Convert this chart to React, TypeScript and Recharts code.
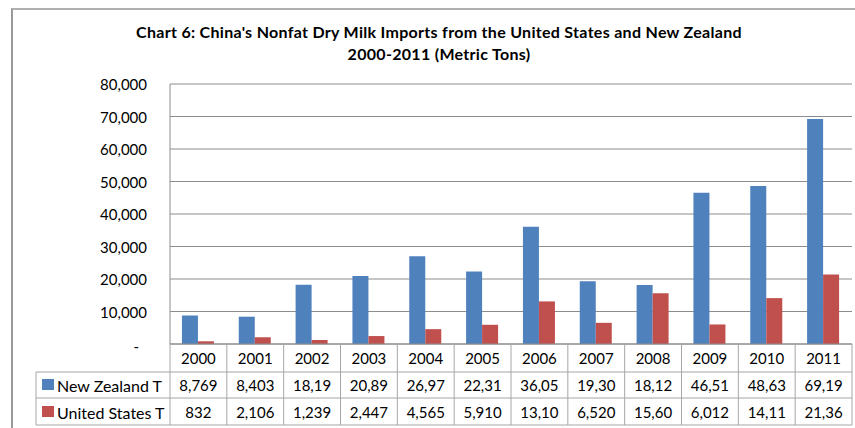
import React from 'react';
import { BarChart, Bar, XAxis, YAxis, CartesianGrid } from 'recharts';

const years = ['2000', '2001', '2002', '2003', '2004', '2005', '2006', '2007', '2008', '2009', '2010', '2011'];
const newZealand = [8769, 8403, 18195, 20895, 26975, 22315, 36055, 19305, 18125, 46515, 48635, 69195];
const unitedStates = [832, 2106, 1239, 2447, 4565, 5910, 13105, 6520, 15605, 6012, 14115, 21365];
const yTicks = [0, 10000, 20000, 30000, 40000, 50000, 60000, 70000, 80000];
const seriesNames = ['New Zealand T', 'United States T'];
const seriesKeys = ['nz', 'us'];
const seriesColors = ['#4F81BD', '#C0504D'];
const titleLines = ["Chart 6: China's Nonfat Dry Milk Imports from the United States and New Zealand", '2000-2011 (Metric Tons)'];

const data = years.map((y, i) => ({ year: y, nz: newZealand[i], us: unitedStates[i] }));

const W = 855;
const H = 428;
const PLOT_LEFT = 170;
const PLOT_RIGHT = 852;
const COL_W = (PLOT_RIGHT - PLOT_LEFT) / years.length;
const GRID = '#8c8c8c';
const BORDER = '#a6a6a6';
const FONT = 'Lato, sans-serif';

const cellText = (v: number) => v.toLocaleString('en-US').slice(0, 5);

const YTick = (props: any) => {
  const { x, y, payload } = props;
  const v = payload.value;
  if (v === 0) {
    return (
      <text x={x - 8} y={y + 2} textAnchor="end" dominantBaseline="central" fontSize={15} fontFamily={FONT} fill="#000">-</text>
    );
  }
  return (
    <text x={x} y={y} textAnchor="end" dominantBaseline="central" fontSize={15} fontFamily={FONT} fill="#000">
      {v.toLocaleString('en-US')}
    </text>
  );
};

const XTableTick = (props: any) => {
  const { x, y, payload } = props;
  const i = payload.index;
  const left = x - COL_W / 2;
  const right = x + COL_W / 2;
  const r1 = y + 28;
  const r2 = y + 54;
  const r3 = y + 81;
  const rowVals = [newZealand[i], unitedStates[i]];
  return (
    <g>
      <line x1={left} y1={y} x2={left} y2={r3} stroke={BORDER} />
      {i === years.length - 1 && <line x1={right} y1={y} x2={right} y2={r3} stroke={BORDER} />}
      <line x1={left} y1={r1} x2={right} y2={r1} stroke={BORDER} />
      <line x1={left} y1={r2} x2={right} y2={r2} stroke={BORDER} />
      <line x1={left} y1={r3} x2={right} y2={r3} stroke={BORDER} />
      <text x={x} y={y + 14} textAnchor="middle" dominantBaseline="central" fontSize={15} fontFamily={FONT} fill="#000">{payload.value}</text>
      {rowVals.map((v, k) => (
        <text key={k} x={x} y={y + 41 + k * 27} textAnchor="middle" dominantBaseline="central" fontSize={15} fontFamily={FONT} fill="#000">{cellText(v)}</text>
      ))}
      {i === 0 && (
        <g>
          <line x1={36} y1={r1} x2={left} y2={r1} stroke={BORDER} />
          <line x1={36} y1={r2} x2={left} y2={r2} stroke={BORDER} />
          <line x1={36} y1={r3} x2={left} y2={r3} stroke={BORDER} />
          <line x1={36} y1={r1} x2={36} y2={r3} stroke={BORDER} />
          {seriesNames.map((n, k) => (
            <g key={n}>
              <rect x={42} y={r1 + 7 + k * 27} width={12} height={11} fill={seriesColors[k]} />
              <text x={57} y={y + 41 + k * 27} dominantBaseline="central" fontSize={16} fontFamily={FONT} fill="#000">{n}</text>
            </g>
          ))}
        </g>
      )}
    </g>
  );
};

export default function App() {
  return (
    <div style={{ position: 'absolute', left: 0, top: 0, width: W, height: H, background: '#fff', overflow: 'hidden', fontFamily: FONT }}>
      <div style={{ position: 'absolute', left: 11, top: 8, width: W, height: H, borderTop: '2px solid #b0b0b0', borderLeft: '2px solid #9a9a9a', boxSizing: 'border-box' }} />
      <div style={{ position: 'absolute', left: 0, width: 878, top: 21, textAlign: 'center', fontWeight: 700, fontSize: 16, letterSpacing: '0.3px', lineHeight: '21.5px', color: '#000' }}>
        <div>{titleLines[0]}</div>
        <div>{titleLines[1]}</div>
      </div>
      <div style={{ position: 'absolute', left: 0, top: 0 }}>
        <BarChart width={W} height={H} data={data} margin={{ top: 84, right: W - PLOT_RIGHT, bottom: 0, left: 0 }} barGap={0} barCategoryGap="21%">
          <CartesianGrid vertical={false} stroke={GRID} />
          <XAxis dataKey="year" height={84} interval={0} tickLine={false} tickSize={0} tickMargin={0} axisLine={{ stroke: GRID }} tick={(p: any) => <XTableTick {...p} />} />
          <YAxis width={PLOT_LEFT} domain={[0, 80000]} ticks={yTicks} interval={0} tickLine={false} tickSize={0} tickMargin={23} axisLine={{ stroke: GRID }} tick={(p: any) => <YTick {...p} />} />
          {seriesKeys.map((k, i) => (
            <Bar key={k} dataKey={k} name={seriesNames[i]} fill={seriesColors[i]} isAnimationActive={false} />
          ))}
        </BarChart>
      </div>
    </div>
  );
}
